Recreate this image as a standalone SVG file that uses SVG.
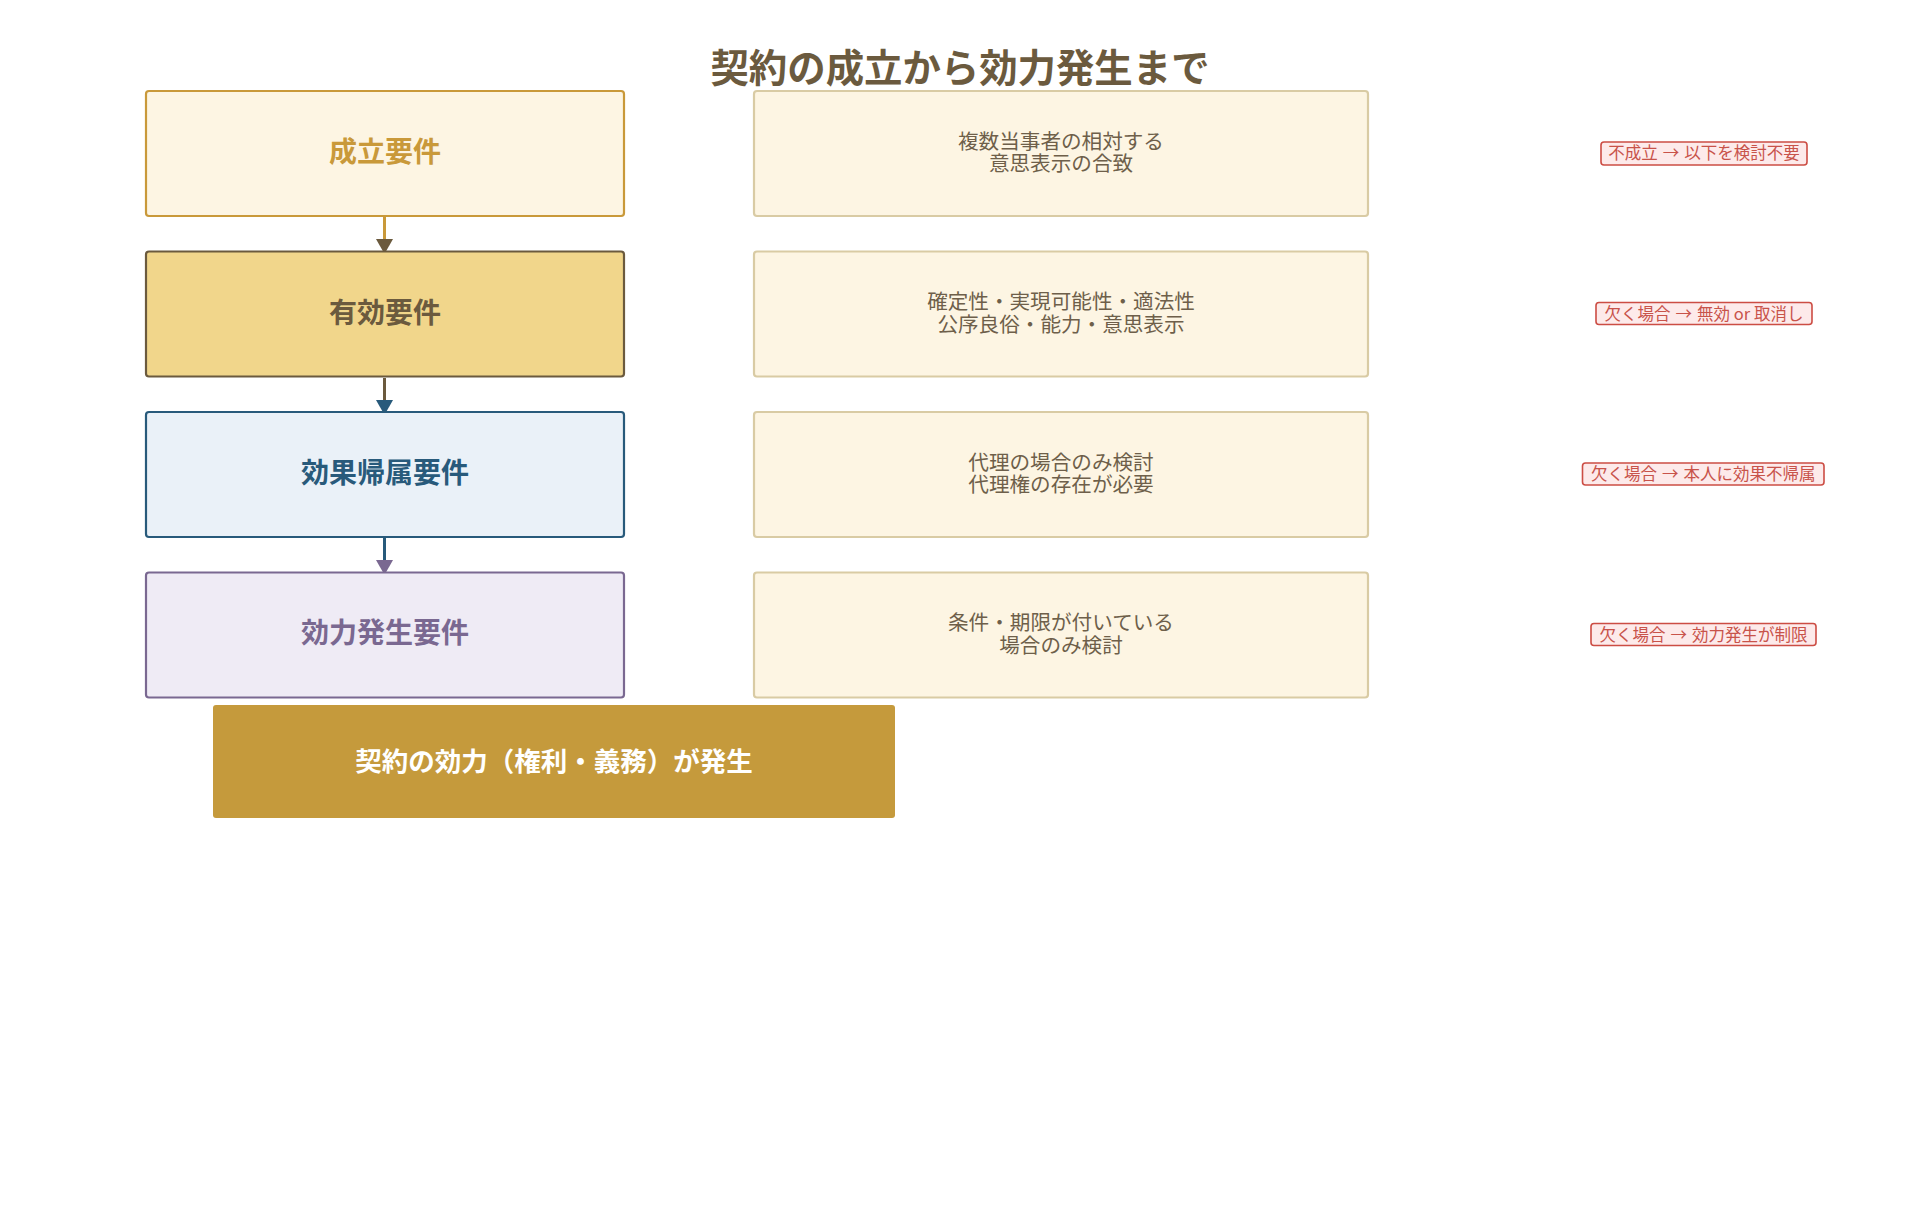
<svg xmlns="http://www.w3.org/2000/svg" width="1920" height="1230" viewBox="0 0 1920 1230">
<style>
text{font-family:"Noto Sans CJK JP","Noto Sans",sans-serif;text-anchor:middle;dominant-baseline:central}
.title{font-size:38.4px;font-weight:700;fill:#6b5a3e}
.req{stroke-width:2.2}
.reqt{font-size:28px;font-weight:700}
.desc{fill:#fdf5e3;stroke:#d9cba4;stroke-width:2.2}
.desct{font-size:20.6px;fill:#6e5f4a}
.warn{fill:#fdeaea;stroke:#cc4d44;stroke-width:1.6}
.warnt{font-size:16.5px;fill:#c8534a}
.conn{stroke-width:3;fill:none}
</style>
<defs>
<marker id="ahBrown" markerUnits="userSpaceOnUse" markerWidth="15" markerHeight="17" viewBox="0 0 15 17" refX="7" refY="8.5" orient="auto"><path d="M0,0 L15,8.5 L0,17 Z" fill="#6b5a3e"/></marker>
<marker id="ahBlue" markerUnits="userSpaceOnUse" markerWidth="15" markerHeight="17" viewBox="0 0 15 17" refX="7" refY="8.5" orient="auto"><path d="M0,0 L15,8.5 L0,17 Z" fill="#285a7b"/></marker>
<marker id="ahPurple" markerUnits="userSpaceOnUse" markerWidth="15" markerHeight="17" viewBox="0 0 15 17" refX="7" refY="8.5" orient="auto"><path d="M0,0 L15,8.5 L0,17 Z" fill="#7a6891"/></marker>
</defs>
<rect width="1920" height="1230" fill="#ffffff"/>
<text class="title" x="960" y="65">契約の成立から効力発生まで</text>

<g id="connectors">
<line class="conn" x1="384.5" y1="217" x2="384.5" y2="246" stroke="#c9993a" marker-end="url(#ahBrown)"/>
<line class="conn" x1="384.5" y1="378" x2="384.5" y2="407" stroke="#6b5a3e" marker-end="url(#ahBlue)"/>
<line class="conn" x1="384.5" y1="538" x2="384.5" y2="567" stroke="#285a7b" marker-end="url(#ahPurple)"/>
</g>

<g id="node-seiritsu">
<rect class="req" x="146" y="91" width="478" height="125" rx="3" fill="#fdf5e3" stroke="#c9993a"/>
<text class="reqt" x="385" y="149.5" fill="#c9993a">成立要件</text>
</g>
<g id="node-yuukou">
<rect class="req" x="146" y="251.5" width="478" height="125" rx="3" fill="#f1d68b" stroke="#6b5a3e"/>
<text class="reqt" x="385" y="310.5" fill="#6b5a3e">有効要件</text>
</g>
<g id="node-kizoku">
<rect class="req" x="146" y="412" width="478" height="125" rx="3" fill="#eaf1f8" stroke="#285a7b"/>
<text class="reqt" x="385" y="470.5" fill="#285a7b">効果帰属要件</text>
</g>
<g id="node-hassei">
<rect class="req" x="146" y="572.5" width="478" height="125" rx="3" fill="#efebf5" stroke="#7a6891"/>
<text class="reqt" x="385" y="631" fill="#7a6891">効力発生要件</text>
</g>

<g id="desc-seiritsu">
<rect class="desc" x="754" y="91" width="614" height="125" rx="3"/>
<text class="desct" x="1061" y="139.5">複数当事者の相対する</text>
<text class="desct" x="1061" y="162">意思表示の合致</text>
</g>
<g id="desc-yuukou">
<rect class="desc" x="754" y="251.5" width="614" height="125" rx="3"/>
<text class="desct" x="1061" y="300">確定性・実現可能性・適法性</text>
<text class="desct" x="1061" y="322.5">公序良俗・能力・意思表示</text>
</g>
<g id="desc-kizoku">
<rect class="desc" x="754" y="412" width="614" height="125" rx="3"/>
<text class="desct" x="1061" y="460.5">代理の場合のみ検討</text>
<text class="desct" x="1061" y="483">代理権の存在が必要</text>
</g>
<g id="desc-hassei">
<rect class="desc" x="754" y="572.5" width="614" height="125" rx="3"/>
<text class="desct" x="1061" y="621">条件・期限が付いている</text>
<text class="desct" x="1061" y="643.5">場合のみ検討</text>
</g>

<g id="warn-seiritsu">
<rect class="warn" x="1601" y="142" width="206" height="23" rx="3"/>
<text class="warnt" x="1704" y="152">不成立<tspan dx="5">→</tspan><tspan dx="5">以下を検討不要</tspan></text>
</g>
<g id="warn-yuukou">
<rect class="warn" x="1596" y="302.5" width="216" height="22" rx="3"/>
<text class="warnt" x="1704" y="312.5">欠く場合<tspan dx="5">→</tspan><tspan dx="5">無効 or 取消し</tspan></text>
</g>
<g id="warn-kizoku">
<rect class="warn" x="1582.5" y="463" width="241.5" height="22" rx="3"/>
<text class="warnt" x="1703.2" y="473">欠く場合<tspan dx="5">→</tspan><tspan dx="5">本人に効果不帰属</tspan></text>
</g>
<g id="warn-hassei">
<rect class="warn" x="1591" y="623.5" width="225" height="22" rx="3"/>
<text class="warnt" x="1703.5" y="633.5">欠く場合<tspan dx="5">→</tspan><tspan dx="5">効力発生が制限</tspan></text>
</g>

<g id="node-result">
<rect x="213" y="705" width="682" height="113" rx="3" fill="#c59a3c"/>
<text x="554" y="759.5" font-size="26.5" font-weight="700" fill="#ffffff">契約の効力（権利・義務）が発生</text>
</g>
</svg>
